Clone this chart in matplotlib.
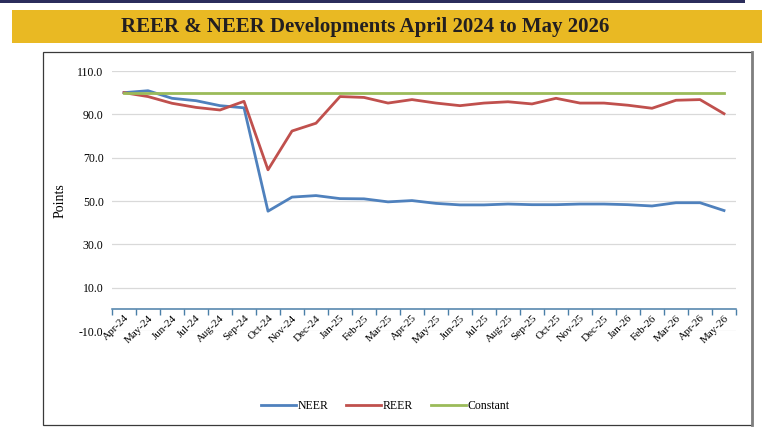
"""REER & NEER developments, April 2024 to May 2026 (line chart, Excel style)."""

import matplotlib

matplotlib.use("Agg")
import matplotlib.pyplot as plt
from matplotlib.lines import Line2D
from matplotlib.patches import Rectangle

# ---------------------------------------------------------------------------
# Data
# ---------------------------------------------------------------------------
MONTHS = [
    "Apr-24", "May-24", "Jun-24", "Jul-24", "Aug-24", "Sep-24", "Oct-24",
    "Nov-24", "Dec-24", "Jan-25", "Feb-25", "Mar-25", "Apr-25", "May-25",
    "Jun-25", "Jul-25", "Aug-25", "Sep-25", "Oct-25", "Nov-25", "Dec-25",
    "Jan-26", "Feb-26", "Mar-26", "Apr-26", "May-26",
]
NEER = [
    100.0, 100.9, 97.4, 96.3, 94.0, 93.0, 45.3, 51.8, 52.5, 51.1, 51.0, 49.6,
    50.2, 48.9, 48.2, 48.2, 48.6, 48.3, 48.3, 48.6, 48.6, 48.3, 47.7, 49.2,
    49.2, 45.6,
]
REER = [
    100.0, 98.2, 95.1, 93.2, 92.0, 96.0, 64.4, 82.3, 85.9, 98.2, 97.8, 95.2,
    96.8, 95.2, 94.0, 95.2, 95.8, 94.8, 97.4, 95.2, 95.2, 94.2, 92.8, 96.5,
    96.8, 90.3,
]
CONSTANT = [100.0] * len(MONTHS)

Y_TICKS = [-10, 10, 30, 50, 70, 90, 110]

TITLE = "REER & NEER Developments April 2024 to May 2026"

# Styles
SERIF = ["Liberation Serif", "DejaVu Serif"]
NEER_COLOR = "#4F81BD"
REER_COLOR = "#C0504D"
CONST_COLOR = "#9BBB59"
AXIS_COLOR = "#4A7FA8"
GRID_COLOR = "#D9D9D9"
BAND_COLOR = "#E9B923"
NAVY = "#2B2D5C"


def main() -> None:
    plt.rcParams["font.family"] = SERIF

    fig = plt.figure(figsize=(7.8, 4.32), dpi=100)
    W, H = 780.0, 432.0

    # top navy rule
    fig.add_artist(Rectangle((0, 1 - 3 / H), 745 / W, 3 / H, transform=fig.transFigure,
                             facecolor=NAVY, edgecolor="none"))
    # title band
    fig.add_artist(Rectangle((12 / W, 1 - 43 / H), 750 / W, 33 / H, transform=fig.transFigure,
                             facecolor=BAND_COLOR, edgecolor="none"))
    fig.text(365 / W, 1 - 27 / H, TITLE, ha="center", va="center", fontsize=15,
             fontweight="bold", color="#231F20")
    # chart frame
    fig.add_artist(Rectangle((43 / W, 1 - 425 / H), 709 / W, 373 / H, transform=fig.transFigure,
                             facecolor="none", edgecolor="#3A3A3A", linewidth=0.9))
    fig.add_artist(Line2D([752 / W, 752 / W], [1 - 425 / H, 1 - 52 / H], transform=fig.transFigure,
                          color="#7F7F7F", linewidth=2.0))

    ax = fig.add_axes([112 / W, 1 - 331 / H, 624 / W, 260 / H])
    x = list(range(len(MONTHS)))

    ax.plot(x, NEER, color=NEER_COLOR, linewidth=2.0, label="NEER", zorder=3)
    ax.plot(x, REER, color=REER_COLOR, linewidth=2.0, label="REER", zorder=3)
    ax.plot(x, CONSTANT, color=CONST_COLOR, linewidth=2.0, label="Constant", zorder=3)

    ax.set_xlim(-0.5, len(MONTHS) - 0.5)
    ax.set_ylim(-10, 110)
    ax.set_yticks(Y_TICKS)
    ax.set_yticklabels([f"{v:.1f}" for v in Y_TICKS], fontsize=8.5)
    ax.grid(axis="y", color=GRID_COLOR, linewidth=0.9)
    ax.set_axisbelow(True)

    for side in ("top", "right", "left"):
        ax.spines[side].set_visible(False)
    ax.spines["bottom"].set_position(("data", 0))
    ax.spines["bottom"].set_color(AXIS_COLOR)
    ax.spines["bottom"].set_linewidth(1.1)

    # tick marks at category boundaries, labels at category centres
    ax.set_xticks([i - 0.5 for i in range(len(MONTHS) + 1)])
    ax.set_xticklabels([])
    ax.set_xticks(x, minor=True)
    ax.set_xticklabels(MONTHS, minor=True, rotation=45, ha="right", rotation_mode="anchor",
                       fontsize=8)
    ax.tick_params(axis="x", which="major", length=4, color=AXIS_COLOR, width=1.0)
    ax.tick_params(axis="x", which="minor", length=0, pad=3)
    ax.tick_params(axis="y", length=0, pad=6)

    ax.set_ylabel("Points", fontsize=10, labelpad=8)

    ax.legend(loc="center", bbox_to_anchor=(385 / W, 1 - 406 / H), bbox_transform=fig.transFigure,
              ncol=3, frameon=False, fontsize=8.5, handlelength=3.0, handletextpad=0.1,
              columnspacing=1.5)

    fig.savefig("out.png", dpi=100)
    plt.close(fig)


if __name__ == "__main__":
    main()
